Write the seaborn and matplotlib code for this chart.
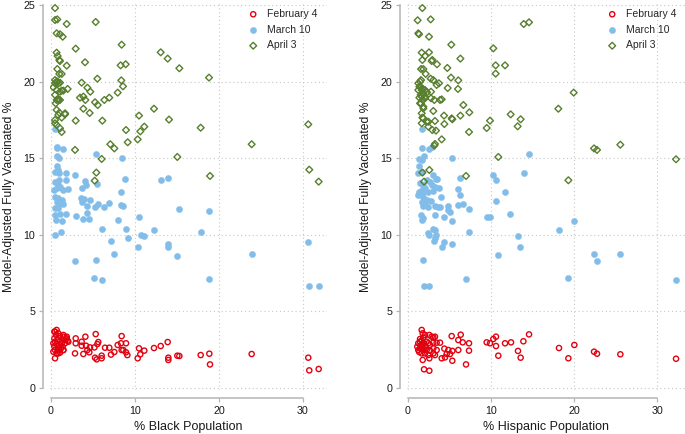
import matplotlib
matplotlib.use("Agg")
import matplotlib.pyplot as plt
import seaborn as sns
import pandas as pd

# ---------------- data ----------------
series_labels = ["February 4", "March 10", "April 3"]
x_ticks = [0, 10, 20, 30]
y_ticks = [0, 5, 10, 15, 20, 25]
x_labels = ["% Black Population", "% Hispanic Population"]
y_label = "Model-Adjusted Fully Vaccinated %"

black_feb = [(0.48,3.68),(0.67,3.79),(0.48,1.94),(0.87,2.26),(1.47,3.46),(1.87,3.35),(1.79,3.18),(2.06,3.02),(1.39,2.70),(1.47,2.48),(2.94,3.24),(2.94,2.92),(2.86,2.26),(3.65,3.02),(3.65,2.76),(4.09,3.35),(4.17,2.76),(4.33,2.48),(4.64,2.65),(4.56,2.33),(3.85,2.22),(5.32,3.52),(5.16,2.65),(5.52,2.87),(5.63,3.0),(5.24,1.98),(5.44,1.87),(6.03,2.11),(6.03,1.94),(6.43,2.63),(6.94,2.63),(7.14,2.18),(7.54,2.35),(7.94,2.81),(8.41,3.39),(8.33,2.92),(8.93,2.92),(8.41,2.48),(8.61,2.48),(8.93,2.33),(9.09,2.15),(10.32,1.94),(10.48,2.59),(10.63,2.2),(11.11,2.44),(12.26,2.61),(13.06,2.74),(13.89,3.0),(13.97,1.98),(13.97,1.83),(15.04,2.11),(15.28,2.09),(17.82,2.15),(18.85,2.24),(18.93,1.54),(23.89,2.22),(30.63,1.98),(30.75,1.15),(31.87,1.24),
             (0.40,3.68),(0.87,3.57),(0.60,3.46),(1.07,3.39),(1.47,3.35),(1.87,3.24),(1.98,3.09),(0.40,3.24),(0.79,3.18),(0.48,3.02),(1.07,3.02),(1.47,3.13),(0.28,2.92),(0.67,2.87),(0.95,2.81),(1.27,2.92),(1.67,2.92),(0.40,2.70),(0.87,2.65),(1.19,2.59),(0.48,2.48),(0.79,2.44),(1.47,2.48),(0.67,2.26),(1.07,2.31),(0.28,2.37)]

black_mar = [(0.48,16.88),(0.75,15.75),(0.75,15.64),(1.39,15.58),(5.32,15.25),(8.41,15.01),(0.75,15.14),(0.95,14.99),(0.67,14.49),(0.79,14.23),(0.48,14.12),(0.95,14.01),(1.79,14.01),(1.79,13.58),(2.86,13.90),(0.48,13.47),(0.95,13.58),(0.79,13.25),(0.40,12.92),(0.67,13.03),(1.07,13.14),(1.47,12.92),(1.98,12.97),(4.05,13.51),(4.13,13.25),(5.52,13.29),(3.69,13.03),(8.85,13.62),(8.37,12.79),(0.48,12.49),(0.87,12.38),(1.27,12.27),(0.67,12.16),(1.07,12.05),(1.47,12.01),(0.48,11.73),(0.87,11.73),(3.53,12.42),(3.93,12.34),(3.65,12.16),(4.64,12.27),(4.29,11.90),(5.63,12.01),(5.24,11.84),(6.94,12.05),(6.35,11.79),(8.37,11.94),(8.61,11.88),(4.25,11.44),(0.48,11.29),(1.07,11.36),(1.79,11.34),(2.94,11.23),(3.85,11.05),(4.56,11.05),(7.98,10.97),(10.48,11.16),(0.60,10.97),(1.35,10.90),(6.11,10.36),(8.93,10.38),(12.26,10.31),(1.19,10.20),(0.48,9.99),(10.67,9.99),(11.11,9.92),(9.13,9.77),(7.14,9.62),(10.32,9.23),(7.50,8.75),(2.86,8.31),(5.36,8.36),(5.16,7.20),(6.03,7.03),(17.82,10.16),(13.97,9.38),(13.97,9.23),(15.04,8.64),(23.89,8.72),(18.85,7.11),(30.63,9.55),(30.75,6.64),(31.87,6.68),(13.06,13.58),(13.89,13.69),(15.24,11.66),(18.81,11.55)]

black_apr = [(0.48,24.80),(0.48,24.02),(0.75,24.06),(1.87,23.76),(5.32,23.89),(0.67,23.15),(1.07,23.09),(1.39,22.93),(2.94,22.15),(8.41,22.41),(0.67,21.89),(0.79,21.67),(0.99,21.41),(1.07,21.34),(1.87,21.04),(4.05,21.26),(0.75,20.82),(0.99,20.50),(1.27,20.50),(8.29,21.06),(8.89,21.13),(13.06,21.91),(13.89,21.50),(15.28,20.87),(18.81,20.26),(5.52,20.19),(0.48,20.10),(0.67,20.00),(0.87,19.89),(1.07,19.93),(0.28,19.63),(0.67,19.45),(1.27,19.41),(1.47,19.41),(1.98,19.52),(3.65,19.93),(4.33,19.60),(4.68,19.34),(0.48,19.13),(0.87,18.84),(1.07,18.80),(0.56,18.58),(3.45,18.95),(3.85,19.02),(4.09,18.80),(5.24,18.65),(5.56,18.47),(3.85,18.23),(4.60,17.95),(6.35,18.80),(6.94,18.95),(7.94,19.28),(8.37,20.08),(8.57,19.69),(12.26,18.23),(14.05,17.52),(10.48,17.78),(17.82,16.99),(2.94,17.45),(6.11,17.45),(0.99,17.97),(1.27,17.65),(1.67,17.86),(0.48,17.28),(0.67,17.17),(1.07,16.95),(1.27,16.71),(8.93,16.84),(10.63,16.75),(11.11,17.06),(10.32,16.23),(9.13,16.04),(7.06,15.91),(7.54,15.64),(23.89,15.91),(30.63,17.21),(30.75,14.25),(31.87,13.47),(15.04,15.08),(18.93,13.84),(2.86,15.54),(6.03,14.95),(5.40,14.06),(5.20,13.53),
             (0.79,20.0),(1.07,19.34),(0.87,18.80),(0.67,18.15),(0.87,17.82),(0.48,17.49),(1.67,17.93),(0.67,18.80),(0.48,19.89)]

hisp_feb = [(1.65,3.79),(1.77,3.57),(2.05,3.46),(2.57,3.46),(2.85,3.35),(3.05,3.31),(3.25,3.35),(1.24,2.92),(1.45,3.02),(1.65,2.81),(1.85,2.92),(2.05,2.70),(2.25,3.02),(2.45,2.92),(2.65,2.81),(3.05,2.96),(3.45,2.96),(3.86,2.96),(1.45,2.59),(1.85,2.48),(2.25,2.48),(2.65,2.44),(3.05,2.59),(1.65,2.26),(2.05,2.26),(2.45,2.15),(3.05,2.26),(3.25,2.15),(3.45,2.48),(1.24,2.48),(1.12,2.70),(1.77,1.83),(2.57,1.94),(1.93,1.22),(2.57,1.13),(4.38,2.57),(4.86,2.48),(5.34,2.42),(4.66,2.22),(5.06,2.22),(4.06,1.94),(4.46,2.0),(5.34,1.78),(6.06,2.48),(7.35,2.44),(7.35,2.92),(6.06,3.13),(6.59,2.98),(6.35,3.48),(5.26,3.39),(6.99,1.54),(9.48,2.98),(9.88,2.92),(10.28,3.20),(10.60,3.35),(10.60,2.74),(10.88,2.11),(11.69,2.92),(12.41,2.98),(13.25,2.42),(13.57,1.98),(13.90,3.05),(14.58,3.50),(18.19,2.61),(20.04,2.81),(19.32,1.94),(22.41,2.37),(22.77,2.24),(25.58,2.2),(32.29,1.91),
            (1.45,3.2),(1.65,3.1),(1.85,3.3),(1.55,2.75),(1.75,2.6),(1.95,2.9),(2.15,2.6),(1.35,2.35)]

hisp_mar = [(1.73,16.88),(1.65,15.67),(2.57,15.58),(2.85,15.75),(1.97,15.14),(1.37,14.93),(1.65,14.88),(5.26,14.99),(1.33,14.49),(1.24,14.06),(1.65,14.12),(3.05,13.90),(3.53,13.62),(3.37,13.62),(10.28,13.90),(10.60,13.58),(6.27,13.69),(11.69,12.79),(1.45,13.36),(1.85,13.25),(2.25,13.58),(2.65,13.47),(2.85,13.25),(3.25,13.14),(3.78,13.03),(3.05,12.88),(2.05,13.03),(1.65,12.92),(1.37,12.82),(1.85,12.82),(2.45,12.82),(1.24,12.60),(1.77,12.49),(2.25,12.27),(2.73,12.23),(1.65,12.16),(2.05,12.05),(1.77,11.88),(2.45,11.79),(3.25,11.88),(3.86,11.84),(1.53,11.29),(1.85,11.07),(1.73,10.97),(3.21,11.29),(4.38,11.14),(5.34,10.90),(4.86,11.62),(5.06,11.51),(6.06,11.95),(6.67,12.01),(7.35,11.71),(4.78,11.88),(3.65,11.79),(3.94,12.45),(6.06,12.97),(6.27,12.58),(9.48,11.18),(9.88,11.18),(10.56,12.21),(12.29,11.34),(2.97,10.40),(3.25,10.31),(2.45,10.10),(2.57,9.99),(3.37,9.99),(3.25,9.77),(3.17,9.62),(4.38,9.55),(4.06,9.20),(5.34,9.40),(7.35,10.20),(10.88,8.66),(1.77,8.36),(6.99,7.11),(1.93,6.68),(2.57,6.64),(18.19,10.29),(20.04,10.92),(19.32,7.18),(22.41,8.75),(22.77,8.31),(25.58,8.72),(32.29,7.03),(13.21,9.92),(13.53,9.23),(13.94,14.01),(14.58,15.27)]

hisp_apr = [(1.73,24.80),(1.16,24.0),(2.73,24.06),(1.24,23.15),(1.33,23.09),(2.53,22.93),(5.22,22.41),(10.28,22.17),(13.94,23.76),(14.58,23.87),(1.65,21.89),(2.53,21.91),(2.05,21.67),(1.73,21.41),(2.85,21.34),(2.93,21.41),(3.49,21.13),(6.31,21.5),(10.56,21.06),(11.69,21.06),(10.56,20.52),(1.57,20.82),(1.85,20.82),(2.13,20.50),(4.74,20.89),(5.18,20.26),(6.06,20.08),(2.73,20.19),(3.05,20.10),(1.57,20.10),(1.45,20.0),(1.37,19.67),(1.73,19.56),(2.05,19.45),(2.29,19.30),(2.77,19.34),(3.45,19.78),(3.73,19.89),(4.78,19.58),(6.02,19.52),(19.96,19.28),(18.11,18.23),(1.65,19.02),(2.05,18.91),(2.77,18.91),(3.17,18.80),(3.86,18.80),(4.06,18.84),(1.57,18.58),(1.85,18.25),(3.05,18.08),(4.34,17.78),(5.26,17.60),(5.34,17.54),(6.31,17.78),(7.39,17.99),(6.67,18.47),(1.73,17.65),(1.65,17.28),(2.45,17.38),(3.25,17.43),(2.45,17.06),(2.93,16.84),(3.37,16.80),(4.38,17.23),(7.35,16.71),(9.48,16.97),(9.88,17.45),(12.37,17.86),(13.57,17.54),(13.21,17.08),(22.41,15.64),(22.77,15.54),(25.58,15.88),(32.29,14.93),(10.88,15.08),(19.32,13.56),(4.06,16.23),(3.25,15.93),(3.17,15.82),(2.57,14.23),(1.73,14.06),(1.93,13.47),(6.99,13.84),
            (1.24,19.89),(1.45,19.67),(1.65,19.45),(1.85,19.23),(1.53,19.13),(2.05,19.02),(1.77,18.80),(1.45,18.58),(1.85,18.36),(1.65,17.93),(1.85,17.60),(2.25,17.38),(1.24,19.45),(1.37,18.95)]

# ---------------- style ----------------
RED = "#e3000f"
BLUE = "#82bde9"
GREEN = "#577f2e"
AXC = "#b4b4b4"
TXT = "#1a1a1a"

sns.set_theme(style="white")
plt.rcParams["font.family"] = ["Liberation Sans", "DejaVu Sans"]

fig = plt.figure(figsize=(6.85, 4.34), dpi=100)
W, H = 685.0, 434.0


def px_axes(left, right, top, bottom):
    return fig.add_axes([left / W, 1 - bottom / H, (right - left) / W, (bottom - top) / H])


ax1 = px_axes(50, 327, 3, 390)
ax2 = px_axes(407, 685, 3, 390)

panels = [
    (ax1, [black_feb, black_mar, black_apr], x_labels[0], (-0.12, 32.86), 248),
    (ax2, [hisp_feb, hisp_mar, hisp_apr], x_labels[1], (-0.12, 33.37), 607),
]

for ax, sets, xlab, xlim, leg_x in panels:
    feb, mar, apr = [pd.DataFrame(s, columns=["x", "y"]) for s in sets]
    sns.scatterplot(data=feb, x="x", y="y", ax=ax, marker="o", s=14,
                    color=RED, facecolors="none", edgecolor=RED, linewidth=1.0,
                    label=series_labels[0], zorder=3)
    sns.scatterplot(data=mar, x="x", y="y", ax=ax, marker="o", s=20,
                    color=BLUE, edgecolor=BLUE, linewidth=0.3,
                    label=series_labels[1], zorder=3)
    sns.scatterplot(data=apr, x="x", y="y", ax=ax, marker="D", s=12,
                    color=GREEN, facecolors="none", edgecolor=GREEN, linewidth=1.0,
                    label=series_labels[2], zorder=3)

    ax.set_xlim(*xlim)
    ax.set_ylim(-0.13, 25.13)
    ax.set_xticks(x_ticks)
    ax.set_yticks(y_ticks)
    ax.set_axisbelow(True)
    ax.grid(True, linestyle=(0, (1, 2.5)), color="#c8c8c8", linewidth=0.8)

    for side in ["top", "right"]:
        ax.spines[side].set_visible(False)
    ax.spines["left"].set_position(("outward", 5))
    ax.spines["bottom"].set_position(("outward", 5.8))
    ax.spines["left"].set_bounds(0, 25)
    ax.spines["bottom"].set_bounds(0, 30)
    for side in ["left", "bottom"]:
        ax.spines[side].set_color(AXC)
        ax.spines[side].set_linewidth(1.1)
    ax.tick_params(axis="both", which="major", length=3, width=0.9, color=AXC,
                   labelsize=7.7, labelcolor=TXT, pad=2.5, left=True, bottom=True)

    ax.set_xlabel(xlab, fontsize=9, color=TXT, labelpad=4)
    ax.set_ylabel(y_label, fontsize=8.7, color=TXT)
    ax.yaxis.set_label_coords(-0.127, 0.5)

    ax.legend(loc="upper left", bbox_to_anchor=(leg_x / W, 1 - 9 / H),
              bbox_transform=fig.transFigure, frameon=False, fontsize=7.5,
              handlelength=1.0, handletextpad=0.8, labelspacing=0.55,
              borderpad=0, borderaxespad=0, markerscale=1.0)

fig.savefig("out.png", dpi=100)
